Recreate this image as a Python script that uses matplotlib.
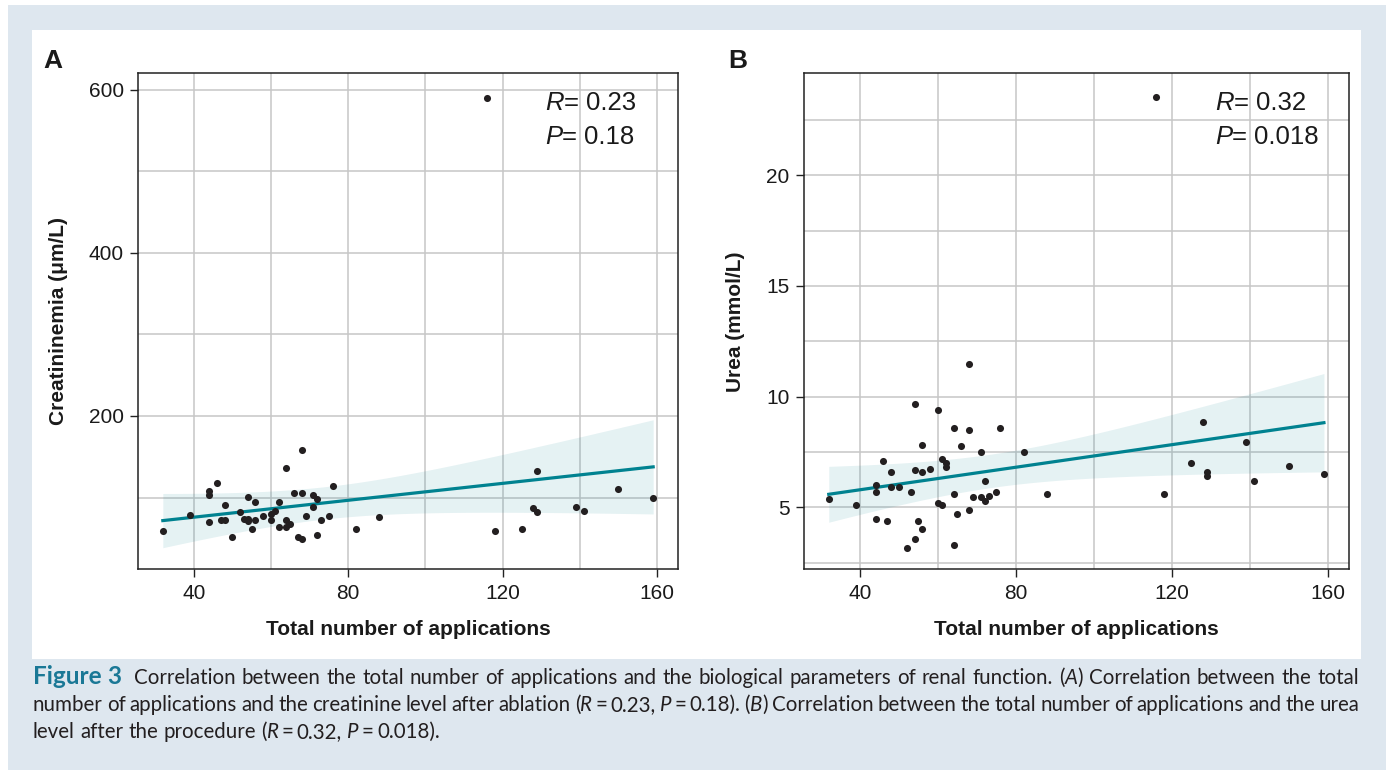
import re
import matplotlib
matplotlib.use('Agg')
import matplotlib.pyplot as plt
import numpy as np
from matplotlib.patches import Rectangle
from matplotlib.transforms import IdentityTransform


# values
apps_a = [32, 39, 44, 44, 44, 46, 47, 48, 48, 50, 52, 53, 54, 54, 54, 55, 56, 56, 58, 60,
          60, 61, 62, 62, 64, 64, 64, 65, 66, 67, 68, 68, 68, 69, 71, 71, 72, 72, 73, 75,
          76, 82, 88, 116, 118, 125, 128, 129, 129, 139, 141, 150, 159]
creatinine = [59, 78, 70, 108, 103, 118, 72, 73, 91, 51, 82, 74, 101, 74, 71, 61, 95, 72, 77, 80,
              73, 84, 95, 64, 136, 73, 64, 68, 106, 51, 158, 106, 49, 77, 103, 89, 98, 54, 73, 77,
              114, 62, 76, 590, 59, 62, 87, 82, 132, 88, 84, 110, 99]

apps_b = [32, 39, 44, 44, 44, 46, 47, 48, 48, 50, 52, 53, 54, 54, 54, 55, 56, 56, 56, 58,
          60, 60, 61, 61, 62, 62, 64, 64, 64, 65, 66, 68, 68, 68, 69, 71, 71, 72, 72, 73,
          75, 76, 82, 88, 116, 118, 125, 128, 129, 129, 139, 141, 150, 159]
urea = [5.39, 5.11, 5.99, 5.69, 4.49, 7.10, 4.39, 6.61, 5.90, 5.90, 3.18, 5.69, 9.67, 6.68, 3.59,
        4.40, 7.81, 6.59, 4.00, 6.71, 9.39, 5.21, 5.12, 7.19, 7.00, 6.80, 8.58, 5.59, 3.31, 4.70,
        7.78, 11.47, 8.49, 4.90, 5.48, 7.50, 5.48, 6.20, 5.30, 5.50, 5.69, 8.58, 7.50, 5.59,
        23.55, 5.60, 7.01, 8.87, 6.59, 6.40, 7.97, 6.20, 6.88, 6.49]

x_major = [40, 80, 120, 160]
x_minor = [60, 100, 140]
ya_major = [200, 400, 600]
ya_minor = [100, 300, 500]
yb_major = [5, 10, 15, 20]
yb_minor = [2.5, 7.5, 12.5, 17.5, 22.5]

stats_a = ('0.23', '0.18')
stats_b = ('0.32', '0.018')

T_975 = 2.007  # t quantile, ~52 df

TEAL = '#008290'
POINT = '#231f20'
GRID = '#c6c6c6'
BG = '#dee7ef'

plt.rcParams['font.family'] = ['Liberation Sans', 'DejaVu Sans']

W, H = 1386, 770
fig = plt.figure(figsize=(W / 100, H / 100), dpi=100, facecolor='white')
ident = IdentityTransform()

# page background + white panel
fig.add_artist(Rectangle((8, 0), W - 8, H - 5, transform=ident,
                         facecolor=BG, edgecolor='none', zorder=-10))
fig.add_artist(Rectangle((32, H - 659), 1361 - 32, 659 - 30, transform=ident,
                         facecolor='white', edgecolor='none', zorder=-9))

ax_a = fig.add_axes([138.3 / W, 1 - 569.3 / H, 539.4 / W, 495.8 / H])
ax_b = fig.add_axes([804 / W, 1 - 569.3 / H, 544.7 / W, 495.8 / H])


def panel(ax, x, y, ylim, ymaj, ymin, ylabel):
    x = np.asarray(x, float)
    y = np.asarray(y, float)
    n = len(x)
    slope, icpt = np.polyfit(x, y, 1)
    s = np.sqrt(np.sum((y - (slope * x + icpt)) ** 2) / (n - 2))
    xs = np.linspace(x.min(), x.max(), 100)
    fit = slope * xs + icpt
    se = s * np.sqrt(1 / n + (xs - x.mean()) ** 2 / np.sum((x - x.mean()) ** 2))
    ax.fill_between(xs, fit - T_975 * se, fit + T_975 * se, color=TEAL, alpha=0.1, lw=0, zorder=2)
    ax.plot(xs, fit, color=TEAL, lw=2.3, zorder=3)
    ax.scatter(x, y, s=26, color=POINT, linewidths=0, zorder=4)

    ax.set_xlim(25.65, 165.35)
    ax.set_ylim(*ylim)
    ax.set_xticks(x_major)
    ax.set_xticks(x_minor, minor=True)
    ax.set_yticks(ymaj)
    ax.set_yticks(ymin, minor=True)
    ax.set_yticklabels([f'{v:g}' for v in ymaj])
    ax.grid(which='both', color=GRID, lw=1.1)
    ax.set_axisbelow(True)
    ax.tick_params(which='minor', length=0)
    ax.tick_params(which='major', length=5.5, width=1.0, color='#222222',
                   labelsize=15, labelcolor='#1a1a1a', pad=5)
    for sp in ax.spines.values():
        sp.set_color('#222222')
        sp.set_linewidth(1.1)
    ax.set_xlabel('Total number of applications', fontsize=15, fontweight='bold',
                  color='#1a1a1a', labelpad=12)
    ax.set_ylabel(ylabel, fontsize=15, fontweight='bold', color='#1a1a1a', labelpad=15)


panel(ax_a, apps_a, creatinine, (12, 620), ya_major, ya_minor, 'Creatininemia (μm/L)')
panel(ax_b, apps_b, urea, (2.2, 24.6), yb_major, yb_minor, 'Urea (mmol/L)')

renderer = fig.canvas.get_renderer()


def adv(piece, style):
    t1 = fig.text(0, 0, 'H' + piece + 'H', **style)
    t2 = fig.text(0, 0, 'HH', **style)
    w = t1.get_window_extent(renderer).width - t2.get_window_extent(renderer).width
    t1.remove()
    t2.remove()
    return w


def draw_line(runs, x0, y0, gap_style, width=None):
    # ' ' is a stretchable gap, '~' a fixed thin one
    items, cur = [], []
    for txt, st in runs:
        for tok in re.split(r'([ ~])', txt):
            if tok in (' ', '~'):
                if cur:
                    items.append(('w', cur))
                    cur = []
                items.append(('g', tok))
            elif tok:
                cur.append((tok, st))
    if cur:
        items.append(('w', cur))
    sp = adv(' ', gap_style)
    thin = 0.6 * sp
    widths = []
    natural = 0
    n_stretch = 0
    for kind, val in items:
        if kind == 'w':
            ws = [adv(p, st) for p, st in val]
            widths.append(ws)
            natural += sum(ws)
        elif val == '~':
            natural += thin
        else:
            n_stretch += 1
    gap = (width - natural) / n_stretch if (width and n_stretch) else sp
    x = x0
    k = 0
    for kind, val in items:
        if kind == 'w':
            for (p, st), w in zip(val, widths[k]):
                fig.text(x, y0, p, transform=ident, ha='left', va='baseline', **st)
                x += w
            k += 1
        else:
            x += thin if val == '~' else gap


# R / P annotations inside the panels
ann_n = dict(family='Liberation Sans', size=18.5, color='#1a1a1a')
ann_i = dict(ann_n, style='italic')
for ax, (r, p) in ((ax_a, stats_a), (ax_b, stats_b)):
    x0 = ax.transData.transform((131, 0))[0]
    y1 = ax.transAxes.transform((0, 0.926))[1]
    y2 = ax.transAxes.transform((0, 0.858))[1]
    draw_line([('R', ann_i), ('= ' + r, ann_n)], x0, y1, ann_n)
    draw_line([('P', ann_i), ('= ' + p, ann_n)], x0, y2, ann_n)

# panel letters
fig.text(43, H - 68, 'A', transform=ident, fontsize=19, fontweight='bold', color='#1a1a1a')
fig.text(728, H - 68, 'B', transform=ident, fontsize=19, fontweight='bold', color='#1a1a1a')

# caption
cap_n = dict(family=['Lato', 'DejaVu Sans'], size=14.8, color='#231f20')
cap_i = dict(cap_n, style='italic')
cap_b = dict(cap_n, weight='bold', color='#1a7896', size=17.5)

line1 = [('Figure 3', cap_b),
         ('  Correlation between the total number of applications and the biological '
          'parameters of renal function. (', cap_n),
         ('A', cap_i), (') Correlation between the total', cap_n)]
line2 = [('number of applications and the creatinine level after ablation (', cap_n),
         ('R', cap_i), ('~=~0.23, ', cap_n), ('P', cap_i), ('~=~0.18). (', cap_n),
         ('B', cap_i),
         (') Correlation between the total number of applications and the urea', cap_n)]
line3 = [('level after the procedure (', cap_n), ('R', cap_i), ('~=~0.32, ', cap_n),
         ('P', cap_i), ('~=~0.018).', cap_n)]

draw_line(line1, 33, H - 684, cap_n, width=1326)
draw_line(line2, 33, H - 711, cap_n, width=1326)
draw_line(line3, 33, H - 738, cap_n)

fig.savefig('out.png', dpi=100, facecolor=fig.get_facecolor())
